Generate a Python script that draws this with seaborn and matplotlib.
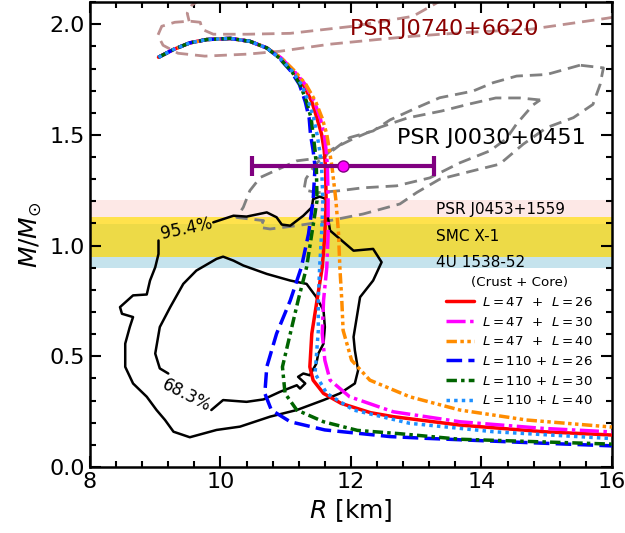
import matplotlib
matplotlib.use('Agg')
import matplotlib.pyplot as plt
import seaborn as sns
from matplotlib.ticker import MultipleLocator, AutoMinorLocator, FormatStrFormatter

# --- mass-radius curves (shared top branch near M_max) ---
R_top = [9.05, 9.28, 9.53, 9.79, 10.15, 10.45, 10.71]
M_top = [1.851, 1.886, 1.916, 1.931, 1.936, 1.923, 1.893]

R_47_26 = [10.92, 11.11, 11.27, 11.40, 11.48, 11.55, 11.59, 11.61, 11.62, 11.60, 11.56, 11.48,
           11.40, 11.37, 11.42, 11.58, 11.85, 12.30, 12.65, 13.67, 14.95, 16.0]
M_47_26 = [1.848, 1.788, 1.728, 1.65, 1.575, 1.503, 1.43, 1.356, 1.203, 1.05, 0.902, 0.752,
           0.602, 0.452, 0.392, 0.332, 0.287, 0.245, 0.227, 0.189, 0.159, 0.144]

R_47_30 = [10.93, 11.13, 11.30, 11.44, 11.53, 11.59, 11.62, 11.64, 11.65, 11.65, 11.63, 11.58,
           11.56, 11.60, 11.68, 11.98, 12.65, 13.67, 14.95, 16.0]
M_47_30 = [1.848, 1.788, 1.728, 1.65, 1.575, 1.503, 1.43, 1.356, 1.203, 1.05, 0.902, 0.752,
           0.602, 0.482, 0.392, 0.317, 0.249, 0.204, 0.174, 0.158]

R_47_40 = [10.93, 11.14, 11.31, 11.46, 11.56, 11.63, 11.67, 11.71, 11.77, 11.81, 11.83, 11.86,
           11.88, 12.01, 12.29, 12.90, 13.67, 14.69, 16.0]
M_47_40 = [1.848, 1.788, 1.728, 1.65, 1.575, 1.503, 1.43, 1.356, 1.203, 1.053, 0.902, 0.752,
           0.617, 0.482, 0.392, 0.317, 0.257, 0.212, 0.18]

R_110_26 = [10.90, 11.08, 11.21, 11.30, 11.36, 11.38, 11.42, 11.45, 11.42, 11.35, 11.24, 11.07,
            10.86, 10.71, 10.68, 10.78, 11.07, 11.60, 12.60, 13.16, 14.69, 16.0]
M_110_26 = [1.848, 1.788, 1.728, 1.65, 1.575, 1.503, 1.43, 1.356, 1.203, 1.053, 0.902, 0.752,
            0.602, 0.452, 0.332, 0.257, 0.204, 0.167, 0.137, 0.129, 0.110, 0.095]

R_110_30 = [10.90, 11.09, 11.22, 11.32, 11.39, 11.42, 11.45, 11.47, 11.48, 11.40, 11.32, 11.19,
            11.07, 10.95, 10.99, 11.17, 11.58, 12.10, 12.75, 13.67, 16.0]
M_110_30 = [1.848, 1.788, 1.728, 1.65, 1.575, 1.503, 1.43, 1.356, 1.203, 1.053, 0.902, 0.752,
            0.602, 0.452, 0.332, 0.257, 0.204, 0.165, 0.150, 0.125, 0.103]

R_110_40 = [10.91, 11.10, 11.24, 11.35, 11.43, 11.48, 11.52, 11.55, 11.57, 11.55, 11.52, 11.50,
            11.50, 11.45, 11.63, 12.04, 12.90, 14.18, 16.0]
M_110_40 = [1.848, 1.788, 1.728, 1.65, 1.575, 1.503, 1.43, 1.356, 1.203, 1.053, 0.902, 0.752,
            0.617, 0.422, 0.332, 0.257, 0.197, 0.159, 0.128]

curve_labels = [r'$L = 47$  +  $L = 26$', r'$L = 47$  +  $L = 30$', r'$L = 47$  +  $L = 40$',
                r'$L = 110$ + $L = 26$', r'$L = 110$ + $L = 30$', r'$L = 110$ + $L = 40$']
curve_colors = ['red', 'magenta', 'darkorange', 'blue', 'darkgreen', 'dodgerblue']

# --- black credible contours (95.4% and 68.3%) ---
R_c95 = [9.89, 10.20, 10.40, 10.71, 10.86, 10.94, 11.07, 11.27, 11.40, 11.42, 11.52, 11.60, 11.68,
         12.04, 12.34, 12.47, 12.34, 12.14, 12.09, 12.04, 12.06, 12.11, 12.06, 11.83, 11.58, 11.17,
         10.76, 10.30, 9.94, 9.53, 9.28, 9.15, 9.02, 8.87, 8.66, 8.54, 8.54, 8.61, 8.66, 8.49, 8.46,
         8.66, 8.87, 8.92, 9.00, 9.05, 9.05]
M_c95 = [1.105, 1.135, 1.131, 1.150, 1.128, 1.095, 1.090, 1.135, 1.173, 1.210, 1.221, 1.213, 1.068,
         0.977, 0.985, 0.925, 0.842, 0.767, 0.677, 0.587, 0.527, 0.437, 0.377, 0.332, 0.302, 0.257,
         0.227, 0.182, 0.167, 0.134, 0.159, 0.212, 0.257, 0.317, 0.377, 0.452, 0.557, 0.632, 0.677,
         0.692, 0.722, 0.775, 0.779, 0.842, 0.902, 0.962, 1.023]

R_c68 = [9.86, 10.04, 10.40, 10.66, 10.91, 11.17, 11.22, 11.30, 11.19, 11.27, 11.37, 11.47, 11.50,
         11.58, 11.60, 11.58, 11.47, 11.32, 11.07, 10.71, 10.35, 10.20, 10.04, 9.94, 9.63, 9.43,
         9.23, 9.07, 9.00, 9.07, 9.20]
M_c68 = [0.257, 0.302, 0.294, 0.305, 0.339, 0.369, 0.354, 0.377, 0.407, 0.422, 0.414, 0.467, 0.512,
         0.557, 0.632, 0.707, 0.767, 0.827, 0.842, 0.872, 0.910, 0.932, 0.950, 0.940, 0.887, 0.827,
         0.722, 0.632, 0.512, 0.445, 0.422]

# --- PSR J0030+0451 contours (grey dashed) ---
R_j0030_out = [15.51, 15.00, 14.54, 14.18, 13.87, 13.36, 13.01, 12.60, 12.34, 11.98, 11.78, 11.58,
               11.17, 10.61, 10.45, 10.35, 10.25, 10.45, 10.66, 10.61, 10.76, 11.17, 11.68, 12.19,
               12.75, 13.01, 13.36, 13.87, 14.28, 14.64, 15.00, 15.41, 15.71, 15.82, 15.87, 15.51]
M_j0030_out = [1.815, 1.773, 1.766, 1.736, 1.698, 1.668, 1.623, 1.568, 1.518, 1.488, 1.443, 1.398,
               1.383, 1.308, 1.248, 1.173, 1.127, 1.120, 1.113, 1.082, 1.075, 1.090, 1.113, 1.143,
               1.188, 1.240, 1.300, 1.338, 1.368, 1.458, 1.533, 1.578, 1.638, 1.728, 1.803, 1.815]
R_j0030_in = [14.90, 14.59, 14.22, 13.82, 13.39, 12.87, 12.46, 12.03, 11.72, 11.46, 11.31, 11.28,
              11.48, 11.83, 12.18, 12.70, 13.21, 13.67, 14.13, 14.38, 14.54, 14.79, 14.90]
M_j0030_in = [1.658, 1.667, 1.667, 1.640, 1.608, 1.577, 1.536, 1.482, 1.437, 1.369, 1.302, 1.252,
              1.239, 1.248, 1.261, 1.270, 1.306, 1.374, 1.428, 1.482, 1.550, 1.635, 1.658]

# --- PSR J0740+6620 contour (rosy dashed, cut by the frame) ---
R_j0740_a = [13.44, 12.95, 12.03, 11.07, 10.41, 9.89, 9.72, 9.69, 9.53, 9.30, 9.10, 9.04, 9.12,
             9.35, 9.76, 10.41, 10.91, 11.68, 12.44, 12.95, 13.82, 14.74, 15.92, 16.20]
M_j0740_a = [2.117, 2.036, 1.991, 1.959, 1.955, 1.955, 1.977, 2.009, 2.014, 2.009, 1.991, 1.950,
             1.905, 1.869, 1.856, 1.865, 1.878, 1.910, 1.932, 1.946, 1.964, 1.977, 2.027, 2.041]
R_j0740_b = [9.72, 9.56, 9.49, 9.52]
M_j0740_b = [2.117, 2.086, 2.050, 2.014]

# --- J0030 radius estimate with error bar ---
R_nicer = [11.88]
M_nicer = [1.36]
R_nicer_err = [1.40]

# --- horizontal mass bands ---
band_names = ['PSR J0453+1559', '4U 1538-52', 'SMC X-1']
band_lo = [1.129, 0.898, 0.947]
band_hi = [1.207, 1.099, 1.128]
band_colors = ['#fde8e6', 'lightblue', 'gold']
band_alpha = [1.0, 0.7, 0.7]
band_text_M = [1.165, 0.923, 1.040]

sns.set_style('ticks')
plt.rcParams['font.family'] = ['DejaVu Sans']
for key in ['text.color', 'axes.labelcolor', 'xtick.color', 'ytick.color', 'axes.edgecolor']:
    plt.rcParams[key] = 'black'

fig = plt.figure(figsize=(6.25, 5.33), dpi=100)
ax = fig.add_axes([0.144, 0.124, 0.835, 0.872])

for lo, hi, c, a in zip(band_lo, band_hi, band_colors, band_alpha):
    ax.axhspan(lo, hi, color=c, alpha=a, lw=0, zorder=0)
for name, m in zip(band_names, band_text_M):
    ax.text(13.3, m, name, fontsize=11, va='center', zorder=5)

# contours
ax.plot(R_c95, M_c95, color='black', lw=1.8, zorder=2)
ax.plot(R_c68, M_c68, color='black', lw=1.8, zorder=2)
ax.text(9.48, 1.075, '95.4%', fontsize=12, rotation=12, ha='center', va='center')
ax.text(9.48, 0.324, '68.3%', fontsize=12, rotation=-27, ha='center', va='center')

ax.plot(R_j0030_out, M_j0030_out, color='grey', lw=2, ls=(0, (4.5, 2.5)), zorder=1)
ax.plot(R_j0030_in, M_j0030_in, color='grey', lw=2, ls=(0, (4.5, 2.5)), zorder=1)
ax.plot(R_j0740_a, M_j0740_a, color='rosybrown', lw=2, ls=(0, (4.5, 2.5)), zorder=1)
ax.plot(R_j0740_b, M_j0740_b, color='rosybrown', lw=2, ls=(0, (4.5, 2.5)), zorder=1)
ax.text(11.98, 1.98, 'PSR J0740+6620', color='darkred', fontsize=16, va='center')
ax.text(12.70, 1.488, 'PSR J0030+0451', color='black', fontsize=16, va='center')

# M-R curves
curve_R = [R_47_26, R_47_30, R_47_40, R_110_26, R_110_30, R_110_40]
curve_M = [M_47_26, M_47_30, M_47_40, M_110_26, M_110_30, M_110_40]
curve_ls = ['-', (0, (5.5, 1.3, 1, 1.3)), (0, (3, 1, 1, 1, 1, 1)),
            (0, (4.5, 1.8)), (0, (3, 1.2, 1, 1.2)), (0, (1, 1.2))]
for R, M, c, ls, lab in zip(curve_R, curve_M, curve_colors, curve_ls, curve_labels):
    sns.lineplot(x=R_top + R, y=M_top + M, sort=False, estimator=None, color=c,
                 linestyle=ls, lw=2.5, label=lab, ax=ax, zorder=3)

ax.errorbar(R_nicer, M_nicer, xerr=R_nicer_err, fmt='o', color='purple', mfc='magenta',
            mec='purple', ms=8, lw=3, capsize=7, capthick=3, zorder=4)

ax.set_xlim(8, 16)
ax.set_ylim(0, 2.1)
ax.xaxis.set_major_locator(MultipleLocator(2))
ax.xaxis.set_minor_locator(AutoMinorLocator(5))
ax.yaxis.set_major_locator(MultipleLocator(0.5))
ax.yaxis.set_minor_locator(AutoMinorLocator(5))
ax.yaxis.set_major_formatter(FormatStrFormatter('%.1f'))
ax.tick_params(which='both', direction='in', top=True, right=True, width=1.5, labelsize=16)
ax.tick_params(which='major', length=8)
ax.tick_params(which='minor', length=4.5)
for s in ax.spines.values():
    s.set_linewidth(1.8)

ax.set_xlabel(r'$R$ [km]', fontsize=18)
ax.set_ylabel(r'$M/M_{\odot}$', fontsize=18)

ax.legend(loc='upper left', bbox_to_anchor=(0.66, 0.436), frameon=False, fontsize=9.6,
          title='(Crust + Core)', title_fontsize=9.6, handlelength=2.1, handletextpad=0.6,
          labelspacing=0.5)

fig.savefig('out.png', dpi=100)
